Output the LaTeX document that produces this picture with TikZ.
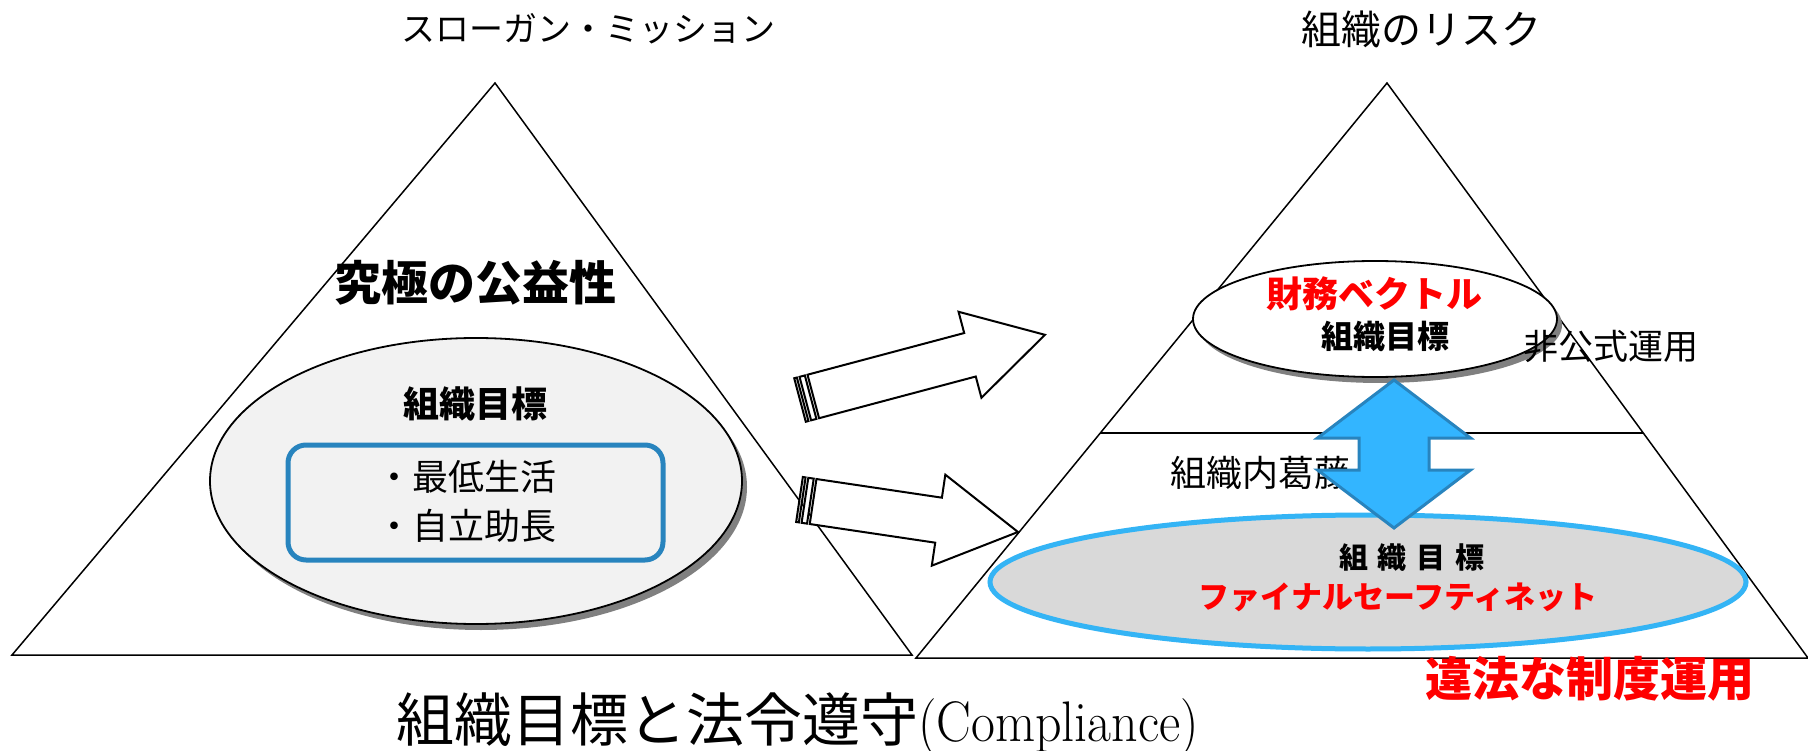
\documentclass[tikz,border=0pt]{standalone}
\usepackage{graphicx}
\usepackage{fontspec}
\newfontfamily\jp{Noto Sans CJK JP}
\newcommand{\fsz}[1]{\fontsize{#1}{#1}\selectfont}
\definecolor{boxblue}{RGB}{40,132,190}
\definecolor{arrowblue}{RGB}{51,181,255}
\definecolor{ellblue}{RGB}{52,180,245}
\definecolor{ellfill}{RGB}{217,217,217}
\definecolor{lightfill}{RGB}{242,242,242}
\definecolor{shadowgray}{RGB}{128,128,128}
\definecolor{jred}{RGB}{255,0,0}
\tikzset{
  tri/.style={draw=black, line width=1.5pt, line join=miter},
  blockarrow/.style={draw=black, fill=white, line width=2pt, line join=miter},
  txt/.style={inner sep=0pt, outer sep=0pt},
}
\begin{document}
\begin{tikzpicture}[x=1pt,y=-1pt]
\useasboundingbox (0,0) rectangle (1808,751);
\fill[white] (0,0) rectangle (1808,751);

% titles
\node[txt, font={\jp\fsz{34}}] (t1) at (588,29) {スローガン・ミッション};
\node[txt, font={\jp\fsz{40}}] (t2) at (1421,29) {組織のリスク};

% left triangle
\draw[tri] (495,83) -- (912,655) -- (12,655) -- cycle;
% right triangle
\draw[tri] (1387,83) -- (1808,658) -- (916,658) -- cycle;
\draw[line width=1.5pt] (1100,433) -- (1643,433);

% left ellipse
\fill[shadowgray] (481,487) ellipse [x radius=266, y radius=143];
\draw[fill=lightfill, line width=1.8pt] (476,481) ellipse [x radius=266, y radius=143];
\node[txt, font={\jp\bfseries\fsz{47}}] (kyu) at (475,283) {究極の公益性};
\node[txt, font={\jp\bfseries\fsz{36}}] (mk1) at (475,404) {組織目標};
\draw[boxblue, line width=5pt, rounded corners=18pt] (288,445) rectangle (663,560);
\node[txt, font={\jp\fsz{36}}] (b1) at (466,477) {・最低生活};
\node[txt, font={\jp\fsz{36}}] (b2) at (466,526) {・自立助長};

% right top ellipse
\fill[shadowgray] (1380,325) ellipse [x radius=182, y radius=58];
\draw[fill=white, line width=1.8pt] (1375,319) ellipse [x radius=182, y radius=58];
\node[txt, font={\jp\bfseries\fsz{36}}, text=jred] (zaimu) at (1374,294) {財務ベクトル};
\node[txt, font={\jp\bfseries\fsz{32}}] (mk2) at (1385,336) {組織目標};
\node[txt, font={\jp\fsz{35}}] (hiko) at (1611,346) {非公式運用};
\node[txt, font={\jp\fsz{36}}] (katto) at (1260,473) {組織内葛藤};

% bottom ellipse
\draw[fill=ellfill, draw=ellblue, line width=5pt] (1368,582) ellipse [x radius=378, y radius=67];

% double arrow
\draw[fill=arrowblue, draw=boxblue, line width=3pt, line join=miter]
  (1394,380) -- (1470.5,438) -- (1429,438) -- (1429,470) -- (1470.5,470)
  -- (1394,528) -- (1317.5,470) -- (1359,470) -- (1359,438) -- (1317.5,438) -- cycle;

\node[txt, font={\jp\bfseries\fsz{29}}] (mk3) at (1412,558) {組\hspace{10pt}織\hspace{10pt}目\hspace{10pt}標};
\node[txt, font={\jp\bfseries\fsz{31}}, text=jred] (fsn) at (1398,597) {ファイナルセーフティネット};
\node[txt, font={\jp\bfseries\fsz{47}}, text=jred] (ihou) at (1590,679) {違法な制度運用};

% bottom caption
\node[txt, anchor=base west] (cap) at (396,741) {{\jp\fsz{58}組織目標と法令遵守}\scalebox{1}[1.1]{\fsz{52}(Compliance)}};

% striped block arrow 1
\begin{scope}[shift={(800,400)}, rotate=14.9]
  \draw[blockarrow] (0,-22.5) rectangle (2.75,22.5);
  \draw[blockarrow] (5.5,-22.5) rectangle (11,22.5);
  \draw[blockarrow] (13.75,-22.5) -- (175.9,-22.5) -- (175.9,-44.5) -- (253.5,0)
     -- (175.9,44.5) -- (175.9,22.5) -- (13.75,22.5) -- cycle;
\end{scope}
% striped block arrow 2
\begin{scope}[shift={(799.5,499.5)}, rotate=-8.46]
  \draw[blockarrow] (0,-22.75) rectangle (2.75,22.75);
  \draw[blockarrow] (5.5,-22.75) rectangle (11,22.75);
  \draw[blockarrow] (13.75,-22.75) -- (140.6,-22.75) -- (140.6,-46) -- (220.9,0)
     -- (140.6,46) -- (140.6,22.75) -- (13.75,22.75) -- cycle;
\end{scope}
\end{tikzpicture}
\end{document}
